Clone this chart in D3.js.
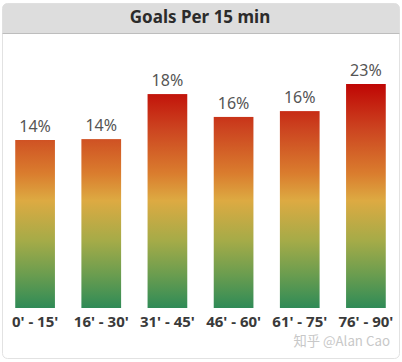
<!DOCTYPE html>
<html>

<head>
    <meta charset="UTF-8">
    <style>
        body { margin: 0; background: #fff; }
    </style>
</head>

<body>
    <svg></svg>
    <script src="https://d3js.org/d3.v7.min.js"></script>
    <script>

        let width = 402, height = 362;

        // data
        const periods = ["0' - 15'", "16' - 30'", "31' - 45'", "46' - 60'", "61' - 75'", "76' - 90'"];
        const shareLabels = ["14%", "14%", "18%", "16%", "16%", "23%"];
        // bar heights, relative to the tallest bar (= 100)
        const barHeights = [75, 75.4, 95.5, 85.3, 87.9, 100];

        let font = "'Noto Sans', 'DejaVu Sans', sans-serif";

        let svg = d3.select("svg")
            .attr("width", width)
            .attr("height", height)
            .style("font-family", font);

        // card + header
        svg.append("rect")
            .attr("x", 2.5).attr("y", 3.5)
            .attr("width", 397).attr("height", 355)
            .attr("rx", 5)
            .attr("fill", "#fff")
            .attr("stroke", "#e2e2e2");

        svg.append("path")
            .attr("d", "M2.5,33 V8.5 a5,5 0 0 1 5,-5 H394.5 a5,5 0 0 1 5,5 V33 Z")
            .attr("fill", "#dddddd");

        svg.append("line")
            .attr("x1", 2.5).attr("x2", 399.5)
            .attr("y1", 33.5).attr("y2", 33.5)
            .attr("stroke", "#bdbdbd");

        svg.append("text")
            .attr("x", 200).attr("y", 23)
            .attr("text-anchor", "middle")
            .attr("font-size", 17)
            .attr("font-weight", "bold")
            .attr("fill", "#2b2b2b")
            .text("Goals Per 15 min");

        let x = d3.scaleBand()
            .domain(periods)
            .range([2, 399])
            .paddingInner(0.4)
            .paddingOuter(0.2);

        let y = d3.scaleLinear()
            .domain([0, 100])
            .range([308, 84]);

        // one gradient across the whole plot height
        let grad = svg.append("defs").append("linearGradient")
            .attr("id", "heat")
            .attr("gradientUnits", "userSpaceOnUse")
            .attr("x1", 0).attr("x2", 0)
            .attr("y1", y(100)).attr("y2", y(0));

        [[0, "#bf0604"], [0.2, "#cc4420"], [0.4, "#da7d2e"], [0.52, "#ddaa42"], [0.7, "#a5ab48"], [0.85, "#6b9d4f"], [1, "#2f8b57"]]
            .forEach(s => grad.append("stop").attr("offset", s[0]).attr("stop-color", s[1]));

        svg.append("g")
            .selectAll("rect")
            .data(barHeights)
            .enter()
            .append("rect")
            .attr("x", (d, i) => x(periods[i]))
            .attr("width", x.bandwidth())
            .attr("y", d => y(d))
            .attr("height", d => y(0) - y(d))
            .attr("fill", "url(#heat)");

        svg.append("g")
            .selectAll("text")
            .data(barHeights)
            .enter()
            .append("text")
            .attr("x", (d, i) => x(periods[i]) + x.bandwidth() / 2)
            .attr("y", d => y(d) - 8)
            .attr("text-anchor", "middle")
            .attr("font-size", 16)
            .attr("fill", "#555")
            .text((d, i) => shareLabels[i]);

        let xAxis = svg.append("g")
            .attr("transform", "translate(0,308)")
            .call(d3.axisBottom(x).tickSize(0).tickPadding(8));

        xAxis.select(".domain").remove();
        xAxis.selectAll("text")
            .attr("font-size", 15)
            .attr("font-weight", "bold")
            .attr("font-family", font)
            .attr("fill", "#3a3a3a");

        svg.append("text")
            .attr("x", 390).attr("y", 346)
            .attr("text-anchor", "end")
            .attr("font-size", 13.3)
            .attr("font-family", "'Noto Sans CJK SC', sans-serif")
            .attr("fill", "#c8c8c8")
            .text("知乎 @Alan Cao");

    </script>
</body>

</html>
